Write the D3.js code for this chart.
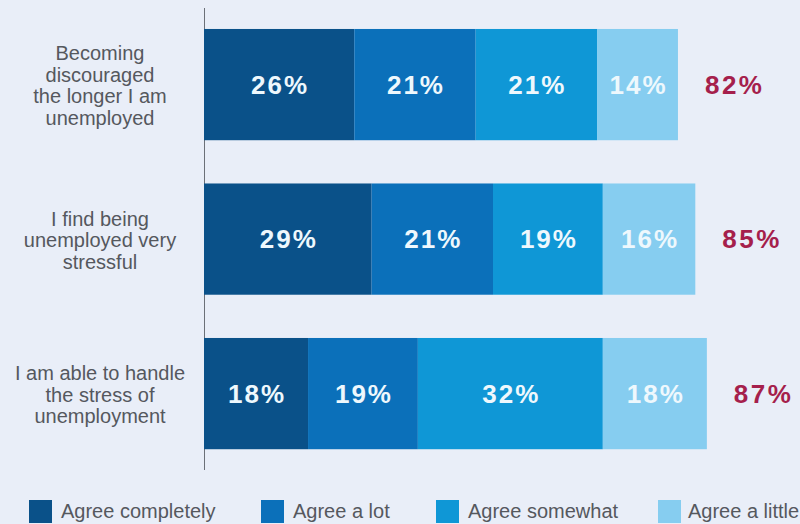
<!DOCTYPE html>
<html><head><meta charset="utf-8">
<script src="https://cdn.jsdelivr.net/npm/d3@7"></script>
<style>
html,body{margin:0;padding:0;background:#e9eef8;}
svg{display:block;font-family:"Liberation Sans",Arial,sans-serif;}
</style></head>
<body>
<svg id="c" width="800" height="524"></svg>
<script>
const categories = [
  ["Becoming","discouraged","the longer I am","unemployed"],
  ["I find being","unemployed very","stressful"],
  ["I am able to handle","the stress of","unemployment"]
];
const seriesNames = ["Agree completely","Agree a lot","Agree somewhat","Agree a little"];
const agreeCompletely = [26, 29, 18];
const agreeALot = [21, 21, 19];
const agreeSomewhat = [21, 19, 32];
const agreeALittle = [14, 16, 18];
const totals = [82, 85, 87];
const colors = ["#0a5189","#0b70ba","#0f97d6","#86cdf0"];

const svg = d3.select("#c");
svg.append("rect").attr("width",800).attr("height",524).attr("fill","#e9eef8");

const x = d3.scaleLinear().domain([0,100]).range([204,782]);
const y = d3.scaleBand().domain([0,1,2]).range([5.8,472.4]).paddingInner(0.28).paddingOuter(0.15);

const series = [agreeCompletely, agreeALot, agreeSomewhat, agreeALittle];
const rows = categories.map((c,i)=>({i, vals: series.map(s=>s[i])}));
const stack = d3.stack().keys([0,1,2,3]).value((d,k)=>d.vals[k]);
const stacked = stack(rows);

// axis line
svg.append("line").attr("x1",204.5).attr("x2",204.5).attr("y1",8).attr("y2",470)
  .attr("stroke","#6b7078").attr("stroke-width",1);

const g = svg.append("g");
stacked.forEach((layer,k)=>{
  layer.forEach((d,i)=>{
    g.append("rect").attr("x",x(d[0])).attr("y",y(i)).attr("width",x(d[1])-x(d[0]))
      .attr("height",y.bandwidth()).attr("fill",colors[k]);
  });
});
stacked.forEach((layer,k)=>{
  layer.forEach((d,i)=>{
    g.append("text").attr("x",(x(d[0])+x(d[1]))/2 + 1).attr("y",y(i)+y.bandwidth()/2+9)
      .attr("text-anchor","middle").attr("fill","#eef8fd").attr("font-weight","bold")
      .attr("font-size",26).attr("letter-spacing",2).text(series[k][i]+"%");
  });
});

// totals
totals.forEach((t,i)=>{
  svg.append("text").attr("x",x(t)+27).attr("y",y(i)+y.bandwidth()/2+9)
    .attr("fill","#a51f4c").attr("font-weight","bold").attr("font-size",26)
    .attr("letter-spacing",2.5).text(t+"%");
});

// category labels
categories.forEach((lines,i)=>{
  const cy = y(i)+y.bandwidth()/2;
  const lh = 21.5;
  const t = svg.append("text").attr("text-anchor","middle").attr("fill","#55585e").attr("font-size",20);
  lines.forEach((ln,j)=>{
    t.append("tspan").attr("x",100).attr("y",cy + (j-(lines.length-1)/2)*lh + 8).text(ln);
  });
});

// legend
const legX = [29, 261, 436, 658];
const legTX = [61, 293, 468, 688];
seriesNames.forEach((n,k)=>{
  svg.append("rect").attr("x",legX[k]).attr("y",500).attr("width",23).attr("height",23).attr("fill",colors[k]);
  svg.append("text").attr("x",legTX[k]).attr("y",518).attr("fill","#55585e").attr("font-size",20).text(n);
});
</script>
</body></html>
